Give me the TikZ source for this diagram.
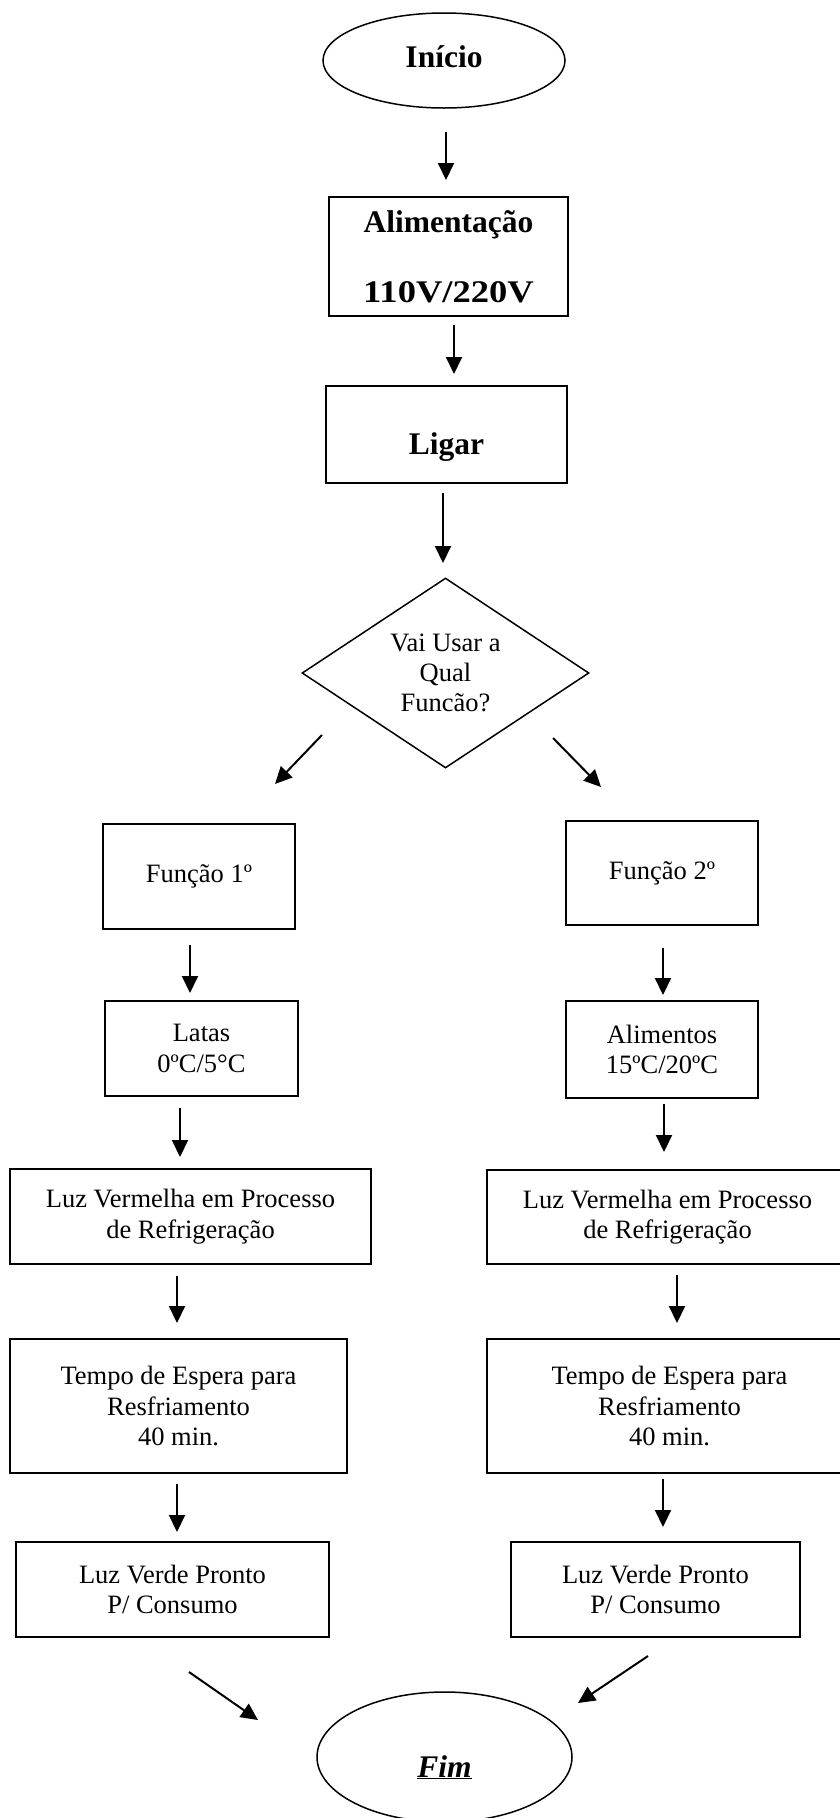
\documentclass[tikz,border=0pt]{standalone}
\usepackage{fontspec}
\setmainfont{Liberation Serif}
\usepackage{tikz}
\usetikzlibrary{shapes.geometric,arrows.meta}

\begin{document}
\begin{tikzpicture}[x=1pt,y=-1pt,
	caixa/.style={draw,line width=1.8pt,inner sep=0pt,align=center,font=\fontsize{26.5}{30.5}\selectfont},
	terminal/.style={draw,ellipse,line width=1.5pt,inner sep=0pt,font=\bfseries\fontsize{31.5}{36}\selectfont},
	seta/.style={line width=2pt,-{Triangle[length=17pt,width=16pt]}}]
	\useasboundingbox (0,0) rectangle (840,1818);
	\node[terminal, minimum width=242pt, minimum height=95pt, text height=22pt, text depth=9pt] (inicio) at (444,60.5) {Início};
	\node[caixa, minimum width=239pt, minimum height=119pt, font=\bfseries\fontsize{31.5}{70}\selectfont] (alim) at (448.5,256.5) {Alimentação\\\scalebox{1.16}[1]{110V/220V}};
	\node[caixa, minimum width=241pt, minimum height=97pt, font=\bfseries\fontsize{31.5}{36}\selectfont, text height=47pt, text depth=7pt] (ligar) at (446.5,434.5) {Ligar};
	\node[draw, diamond, aspect=1.5, line width=1.5pt, inner sep=0pt, minimum width=287pt, minimum height=190pt, align=center, font=\fontsize{26.5}{30}\selectfont] (decisao) at (445.5,673) {Vai Usar a\\Qual\\Funcão?};
	\node[caixa, minimum width=192pt, minimum height=105pt] (f1) at (199,876.5) {Função 1º};
	\node[caixa, minimum width=193pt, minimum height=95pt] (latas) at (201.5,1048.5) {Latas\\0ºC/5°C};
	\node[caixa, minimum width=361pt, minimum height=95pt] (verm1) at (190.5,1216.5) {Luz Vermelha em Processo\\de Refrigeração};
	\node[caixa, minimum width=337pt, minimum height=134pt] (tempo1) at (178.5,1406) {Tempo de Espera para\\Resfriamento\\40 min.};
	\node[caixa, minimum width=313pt, minimum height=95pt] (verde1) at (172.5,1589.5) {Luz Verde Pronto\\P/ Consumo};
	\node[caixa, minimum width=192pt, minimum height=104pt] (f2) at (662,873) {Função 2º};
	\node[caixa, minimum width=192pt, minimum height=97pt] (alimentos) at (662,1049.5) {Alimentos\\15ºC/20ºC};
	\node[caixa, minimum width=361pt, minimum height=94pt] (verm2) at (667.5,1217) {Luz Vermelha em Processo\\de Refrigeração};
	\node[caixa, minimum width=365pt, minimum height=134pt] (tempo2) at (669.5,1406) {Tempo de Espera para\\Resfriamento\\40 min.};
	\node[caixa, minimum width=289pt, minimum height=95pt] (verde2) at (655.5,1589.5) {Luz Verde Pronto\\P/ Consumo};
	\node[terminal, minimum width=255pt, minimum height=130pt, font=\bfseries\itshape\fontsize{31.5}{36}\selectfont, text height=42pt, text depth=2pt] (fim) at (444.5,1757) {\underline{Fim}};
	\coordinate (s1) at (446,132);   \coordinate (e1) at (446,180);
	\coordinate (s2) at (454,325);   \coordinate (e2) at (454,374);
	\coordinate (s3) at (443,493);   \coordinate (e3) at (443,563);
	\coordinate (s4) at (322,735);   \coordinate (e4) at (275,784);
	\coordinate (s5) at (553,738);   \coordinate (e5) at (601,787);
	\coordinate (s6) at (190,945);   \coordinate (e6) at (190,993);
	\coordinate (s7) at (180,1108);  \coordinate (e7) at (180,1157);
	\coordinate (s8) at (177,1276);  \coordinate (e8) at (177,1323);
	\coordinate (s9) at (177,1484);  \coordinate (e9) at (177,1532);
	\coordinate (s10) at (663,948);  \coordinate (e10) at (663,995);
	\coordinate (s11) at (664,1104); \coordinate (e11) at (664,1152);
	\coordinate (s12) at (677,1275); \coordinate (e12) at (677,1323);
	\coordinate (s13) at (663,1479); \coordinate (e13) at (663,1527);
	\coordinate (s14) at (189,1672); \coordinate (e14) at (258,1720);
	\coordinate (s15) at (648,1656); \coordinate (e15) at (578,1703);
	\draw[seta] (s1) -- (e1);
	\draw[seta] (s2) -- (e2);
	\draw[seta] (s3) -- (e3);
	\draw[seta] (s4) -- (e4);
	\draw[seta] (s5) -- (e5);
	\draw[seta] (s6) -- (e6);
	\draw[seta] (s7) -- (e7);
	\draw[seta] (s8) -- (e8);
	\draw[seta] (s9) -- (e9);
	\draw[seta] (s10) -- (e10);
	\draw[seta] (s11) -- (e11);
	\draw[seta] (s12) -- (e12);
	\draw[seta] (s13) -- (e13);
	\draw[seta] (s14) -- (e14);
	\draw[seta] (s15) -- (e15);
\end{tikzpicture}
\end{document}
